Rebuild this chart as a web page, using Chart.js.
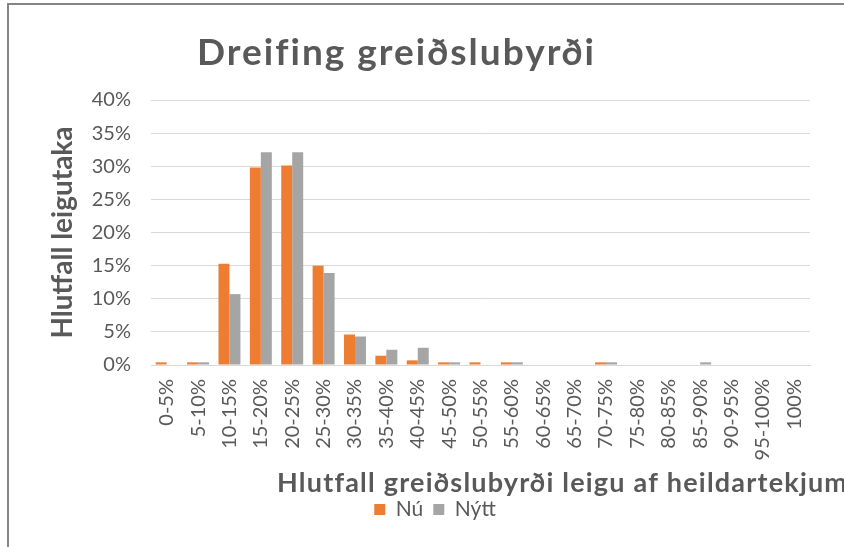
<!DOCTYPE html>
<html>
<head>
<meta charset="utf-8">
<script src="https://cdn.jsdelivr.net/npm/chart.js@4"></script>
<style>
    html, body { margin: 0; padding: 0; background: #fff; overflow: hidden; }
    #frame {
        position: absolute; left: 7px; top: 3px; width: 900px; height: 600px;
        border-left: 2px solid #858585; border-top: 2px solid #858585;
    }
    #chart { position: absolute; left: 0; top: 0; }
</style>
</head>
<body>
<div id="frame"></div>
<canvas id="chart" width="844" height="547"></canvas>
<script>
// categories (share of income spent on rent)
const CATEGORIES = [
    "0-5%", "5-10%", "10-15%", "15-20%", "20-25%", "25-30%", "30-35%",
    "35-40%", "40-45%", "45-50%", "50-55%", "55-60%", "60-65%", "65-70%",
    "70-75%", "75-80%", "80-85%", "85-90%", "90-95%", "95-100%", "100%"
];

// share of tenants, in percent
const NU = [
    0.4, 0.4, 15.3, 29.8, 30.1, 15.0, 4.6,
    1.4, 0.7, 0.4, 0.4, 0.4, 0, 0,
    0.4, 0, 0, 0, 0, 0, 0
];
const NYTT = [
    0, 0.4, 10.7, 32.1, 32.1, 13.9, 4.3,
    2.3, 2.6, 0.4, 0, 0.4, 0, 0,
    0.4, 0, 0, 0.4, 0, 0, 0
];

const Y_TICKS = [0, 5, 10, 15, 20, 25, 30, 35, 40];

const TITLE = "Dreifing greiðslubyrði";
const X_TITLE = "Hlutfall greiðslubyrði leigu af heildartekjum";
const Y_TITLE = "Hlutfall leigutaka";

const TEXT = "#595959";
const FONT = "Lato";

Chart.defaults.font.family = FONT;
Chart.defaults.color = TEXT;

// titles placed like in the original sheet (not centred)
const titles = {
    id: "titles",
    afterDraw(chart) {
        const ctx = chart.ctx;
        ctx.save();
        ctx.fillStyle = TEXT;
        ctx.textAlign = "left";
        ctx.textBaseline = "alphabetic";
        ctx.font = "bold 37px " + FONT;
        ctx.letterSpacing = "2px";
        ctx.fillText(TITLE, 197, 65);
        ctx.font = "bold 27px " + FONT;
        ctx.letterSpacing = "1.2px";
        ctx.fillText(X_TITLE, 277, 492);
        ctx.restore();
    }
};

const PAD_BOTTOM = 17;

new Chart(document.getElementById("chart").getContext("2d"), {
    type: "bar",
    data: {
        labels: CATEGORIES,
        datasets: [
            { label: "Nú", data: NU, backgroundColor: "#ED7D31" },
            { label: "Nýtt", data: NYTT, backgroundColor: "#A5A5A5" }
        ]
    },
    options: {
        responsive: false,
        animation: false,
        categoryPercentage: 0.7,
        barPercentage: 1,
        layout: { padding: { left: 26, right: 0, top: 100, bottom: PAD_BOTTOM } },
        plugins: {
            title: { display: false },
            tooltip: { enabled: false },
            legend: {
                position: "bottom",
                labels: {
                    boxWidth: 11,
                    boxHeight: 11,
                    padding: 10,
                    font: { size: 21 },
                    color: TEXT
                }
            }
        },
        scales: {
            x: {
                grid: { display: false },
                border: { display: true, color: "#D9D9D9" },
                ticks: {
                    autoSkip: false,
                    minRotation: 90,
                    maxRotation: 90,
                    padding: 6,
                    font: { size: 20 },
                    color: TEXT
                },
                afterFit(s) {
                    s.height = s.chart.height - 365 - s.chart.legend.height - PAD_BOTTOM;
                }
            },
            y: {
                min: 0,
                max: 40,
                afterBuildTicks(s) {
                    s.ticks = Y_TICKS.map(v => ({ value: v }));
                },
                grid: { color: "#D9D9D9", drawTicks: false },
                border: { display: false },
                ticks: {
                    padding: 20,
                    font: { size: 20 },
                    color: TEXT,
                    callback: v => v + "%"
                },
                title: {
                    display: true,
                    text: Y_TITLE,
                    font: { size: 28, weight: "bold" },
                    color: TEXT,
                    padding: { top: 20, bottom: 0 }
                },
                afterFit(s) { s.width = 125; }
            },
            y2: {
                position: "right",
                grid: { display: false },
                border: { display: false },
                ticks: { display: false },
                afterFit(s) { s.width = 34; }
            }
        }
    },
    plugins: [titles]
});
</script>
</body>
</html>
